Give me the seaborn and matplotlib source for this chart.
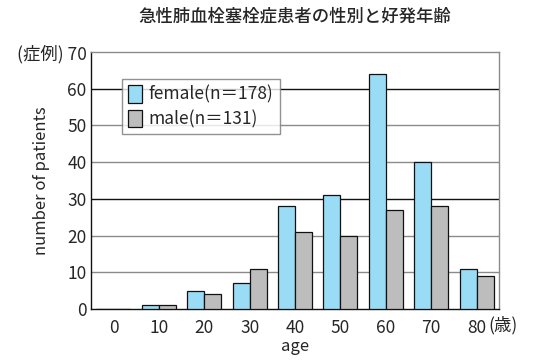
import pandas as pd
import matplotlib
matplotlib.use('Agg')
import matplotlib.pyplot as plt
import matplotlib.transforms as mtransforms
import seaborn as sns
import numpy as np

# data
ages = ['0', '10', '20', '30', '40', '50', '60', '70', '80']
female = [0, 1, 5, 7, 28, 31, 64, 40, 11]
male = [0, 1, 4, 11, 21, 20, 27, 28, 9]
labels = ['female(n＝178)', 'male(n＝131)']
yticks = [0, 10, 20, 30, 40, 50, 60, 70]

df = pd.DataFrame({
    'age': ages * 2,
    'count': female + male,
    'sex': [labels[0]] * len(ages) + [labels[1]] * len(ages),
})

sns.set_style("white")
plt.rcParams['font.family'] = ['Noto Sans CJK JP', 'DejaVu Sans']

fig, ax = plt.subplots(figsize=(5.34, 3.64), dpi=100)
fig.subplots_adjust(left=0.17, right=0.935, top=0.857, bottom=0.151)

colors = ['#9adcf6', '#bdbdbd']
sns.barplot(data=df, x='age', y='count', hue='sex', order=ages, hue_order=labels,
            palette=colors, width=0.75, edgecolor='#111111', linewidth=0.9,
            saturation=1, ax=ax, zorder=3)

ax.set_xlim(-0.5, len(ages) - 0.5)
ax.set_ylim(0, 70)
ax.set_yticks(yticks)
ytl = [str(t) for t in yticks]
ytl[-1] = '(症例) 70'
ax.set_yticklabels(ytl, fontsize=12.5)
ax.set_xticks(range(len(ages)))
ax.set_xticklabels(ages, fontsize=12.5)
ax.set_xticks(np.arange(0.5, len(ages) - 1, 1), minor=True)
ax.tick_params(axis='x', which='major', length=0, pad=7)
ax.tick_params(axis='x', which='minor', direction='in', length=5, width=1, color='#333333')
ax.tick_params(axis='y', length=0, pad=3)

# horizontal rules at each tick; 30 and 60 darker
for t in yticks[1:-1]:
    c = '#111111' if t in (30, 60) else '#8a8a8a'
    ax.axhline(t, color=c, lw=1.0, zorder=1)

for s in ['left', 'bottom']:
    ax.spines[s].set_color('#111111')
    ax.spines[s].set_linewidth(1.0)
for s in ['top', 'right']:
    ax.spines[s].set_color('#8a8a8a')
    ax.spines[s].set_linewidth(1.0)

ax.set_xlabel('age', fontsize=12, labelpad=1)
ax.set_ylabel('number of patients', fontsize=12)
ax.yaxis.set_label_coords(-0.1, 0.5)
ax.set_title('急性肺血栓塞栓症患者の性別と好発年齢', fontsize=12.5, fontweight='medium', pad=22)

trans = mtransforms.blended_transform_factory(ax.transData, ax.transAxes)
ax.text(8.25, -0.028, '(歳)', transform=trans, fontsize=12.5, va='top', ha='left')

leg = ax.legend(loc='upper left', bbox_to_anchor=(0.055, 0.93), fontsize=12.5,
                frameon=True, fancybox=False, shadow=False, handlelength=0.8,
                handleheight=1.2, handletextpad=0.4, borderpad=0.35, labelspacing=0.35)
leg.get_frame().set_edgecolor('#777777')
leg.get_frame().set_linewidth(1.0)
leg.set_zorder(5)

fig.savefig('out.png', dpi=100)
